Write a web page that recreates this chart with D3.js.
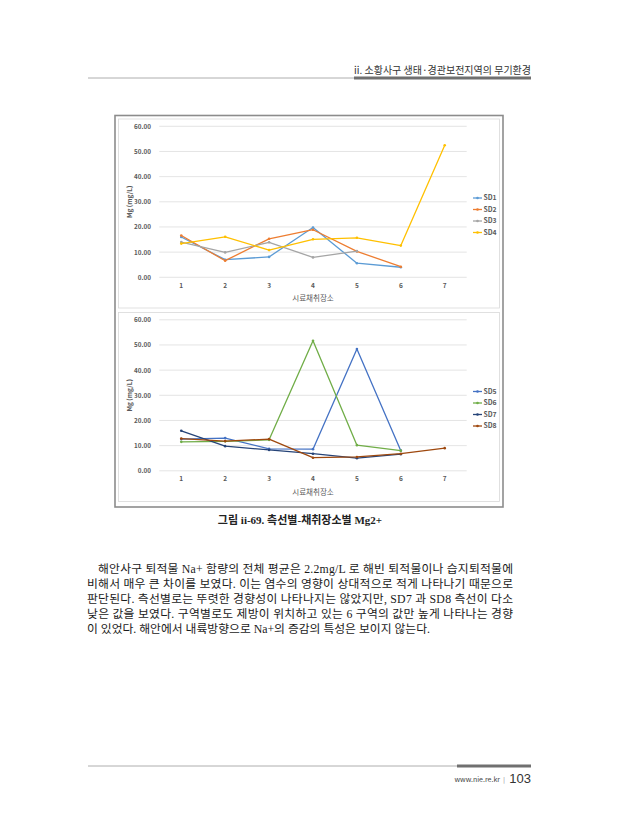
<!DOCTYPE html>
<html>
<head>
<meta charset="utf-8">
<script src="https://cdn.jsdelivr.net/npm/d3@7"></script>
<style>
  html, body { margin: 0; padding: 0; background: #fff; }
  svg { display: block; }
</style>
</head>
<body>
<svg id="page" width="619" height="840"></svg>
<script>
// chart values
const sites = [1, 2, 3, 4, 5, 6, 7];
const yTicks = [0, 10, 20, 30, 40, 50, 60];
const namesTop = ['SD1', 'SD2', 'SD3', 'SD4'];
const namesBottom = ['SD5', 'SD6', 'SD7', 'SD8'];
const sd1 = [16.0, 7.0, 8.1, 19.8, 5.6, 4.0, null];
const sd2 = [16.6, 6.6, 15.3, 18.9, 10.3, 4.2, null];
const sd3 = [14.0, 9.9, 13.9, 7.9, 10.4, null, null];
const sd4 = [13.4, 16.1, 10.8, 15.1, 15.7, 12.6, 52.5];
const sd5 = [12.6, 13.0, 8.7, 8.6, 48.4, 8.0, null];
const sd6 = [11.5, 11.7, 12.3, 51.7, 10.2, 8.0, null];
const sd7 = [15.9, 9.8, 8.3, 6.8, 5.0, 6.6, null];
const sd8 = [12.8, 11.8, 12.6, 5.2, 5.5, 6.8, 9.0];
const coloursTop = ['#5b9bd5', '#ed7d31', '#a5a5a5', '#ffc000'];
const coloursBottom = ['#4472c4', '#70ad47', '#264478', '#9e480e'];

const paragraph = [
    '해안사구 퇴적물 Na+ 함량의 전체 평균은 2.2mg/L 로 해빈 퇴적물이나 습지퇴적물에',
    '비해서 매우 큰 차이를 보였다. 이는 염수의 영향이 상대적으로 적게 나타나기 때문으로',
    '판단된다. 측선별로는 뚜렷한 경향성이 나타나지는 않았지만, SD7 과 SD8 측선이 다소',
    '낮은 값을 보였다. 구역별로도 제방이 위치하고 있는 6 구역의 값만 높게 나타나는 경향',
    '이 있었다. 해안에서 내륙방향으로 Na+의 증감의 특성은 보이지 않는다.'
];

const svg = d3.select('#page');
const sans = '"Noto Sans CJK KR", "Noto Sans", sans-serif';
const serif = '"Liberation Serif", "Noto Sans CJK KR", serif';

// page header
svg.append('line').attr('x1', 88).attr('x2', 355).attr('y1', 78).attr('y2', 78)
    .attr('stroke', '#9a9a9a').attr('stroke-width', 0.8);
svg.append('rect').attr('x', 354).attr('y', 76.5).attr('width', 177).attr('height', 3)
    .attr('fill', '#707070');
svg.append('text').attr('x', 531).attr('y', 74).attr('text-anchor', 'end')
    .attr('font-family', sans).attr('font-size', 10).attr('fill', '#333')
    .text('ii. 소황사구 생태·경관보전지역의 무기환경');

// page footer
svg.append('line').attr('x1', 88).attr('x2', 458).attr('y1', 766).attr('y2', 766)
    .attr('stroke', '#9a9a9a').attr('stroke-width', 0.8);
svg.append('rect').attr('x', 457).attr('y', 764.5).attr('width', 74).attr('height', 3)
    .attr('fill', '#707070');
svg.append('text').attr('x', 500).attr('y', 782).attr('text-anchor', 'end')
    .attr('font-family', sans).attr('font-size', 7).attr('fill', '#444')
    .text('www.nie.re.kr');
svg.append('text').attr('x', 504).attr('y', 782).attr('text-anchor', 'middle')
    .attr('font-family', sans).attr('font-size', 6).attr('fill', '#777').text('|');
svg.append('text').attr('x', 531).attr('y', 783).attr('text-anchor', 'end')
    .attr('font-family', '"Liberation Sans Narrow", "Liberation Sans", sans-serif')
    .attr('font-size', 13).attr('fill', '#333').text('103');

// figure frame
svg.append('rect').attr('x', 115).attr('y', 115.5).attr('width', 388).attr('height', 391.5)
    .attr('fill', '#fff').attr('stroke', '#8c8c8c').attr('stroke-width', 1.6);

function drawChart (top, names, seriesList, colours) {
    // panel
    svg.append('rect').attr('x', 118.5).attr('y', top).attr('width', 381).attr('height', 189)
        .attr('fill', '#fff').attr('stroke', '#d9d9d9').attr('stroke-width', 0.8);

    const x = d3.scaleBand().domain(sites).range([159.3, 466.7]);
    const y = d3.scaleLinear().domain([0, 60]).range([top + 158.3, top + 7.3]);
    const g = svg.append('g').attr('font-family', sans);

    // gridlines
    g.append('g').selectAll('line').data(yTicks).enter().append('line')
        .attr('x1', 159.3).attr('x2', 466.7)
        .attr('y1', d => y(d)).attr('y2', d => y(d))
        .attr('stroke', '#d9d9d9').attr('stroke-width', 0.7);

    // y axis labels
    const yAxis = g.append('g').attr('transform', 'translate(151,0)')
        .call(d3.axisLeft(y).tickValues(yTicks).tickFormat(d3.format('.2f')).tickSize(0).tickPadding(0));
    yAxis.select('.domain').remove();
    yAxis.selectAll('text').attr('font-size', 6.3).attr('font-weight', 'bold').attr('fill', '#595959')
        .attr('font-family', sans);

    // x axis labels
    const xAxis = g.append('g').attr('transform', `translate(0,${y(0)})`)
        .call(d3.axisBottom(x).tickSize(0).tickPadding(6));
    xAxis.select('.domain').remove();
    xAxis.selectAll('text').attr('font-size', 6.5).attr('font-weight', 'bold').attr('fill', '#595959')
        .attr('font-family', sans);

    // axis titles
    g.append('text').attr('transform', `translate(131.5,${(y(0) + y(60)) / 2}) rotate(-90)`)
        .attr('text-anchor', 'middle').attr('font-size', 6.5).attr('font-weight', 'bold')
        .attr('fill', '#595959').text('Mg (mg/L)');
    g.append('text').attr('x', 313).attr('y', y(0) + 24).attr('text-anchor', 'middle')
        .attr('font-size', 7.5).attr('fill', '#595959').text('시료채취장소');

    // series lines
    const line = d3.line()
        .defined(d => d.v !== null)
        .x(d => x(d.site) + x.bandwidth() / 2)
        .y(d => y(d.v));
    seriesList.forEach((vals, i) => {
        const pts = sites.map((s, j) => ({ site: s, v: vals[j] }));
        g.append('path').datum(pts).attr('d', line)
            .attr('fill', 'none').attr('stroke', colours[i]).attr('stroke-width', 1.3)
            .attr('stroke-linejoin', 'round');
        g.append('g').selectAll('circle').data(pts.filter(d => d.v !== null)).enter().append('circle')
            .attr('cx', d => x(d.site) + x.bandwidth() / 2).attr('cy', d => y(d.v))
            .attr('r', 1.3).attr('fill', colours[i]);
    });

    // legend
    const legend = g.append('g');
    names.forEach((name, i) => {
        const ly = top + 79 + i * 11.5;
        legend.append('line').attr('x1', 473).attr('x2', 482).attr('y1', ly).attr('y2', ly)
            .attr('stroke', colours[i]).attr('stroke-width', 1.3);
        legend.append('circle').attr('cx', 477.5).attr('cy', ly).attr('r', 1.3).attr('fill', colours[i]);
        legend.append('text').attr('x', 483.5).attr('y', ly + 2.4)
            .attr('font-size', 6.8).attr('font-weight', 'bold').attr('fill', '#595959').text(name);
    });
}

drawChart(119, namesTop, [sd1, sd2, sd3, sd4], coloursTop);
drawChart(312.5, namesBottom, [sd5, sd6, sd7, sd8], coloursBottom);

// caption
svg.append('text').attr('x', 300).attr('y', 524).attr('text-anchor', 'middle')
    .attr('font-family', serif).attr('font-size', 11).attr('font-weight', 'bold').attr('fill', '#222')
    .text('그림 ii-69. 측선별-채취장소별 Mg2+');

// body paragraph
const body = svg.append('g').attr('font-family', serif).attr('font-size', 11.8).attr('fill', '#1a1a1a');
paragraph.forEach((txt, i) => {
    const x0 = i === 0 ? 98 : 87;
    const t = body.append('text').attr('x', x0).attr('y', 573 + i * 15).text(txt);
    if (i < paragraph.length - 1) {
        t.attr('textLength', 513 - x0).attr('lengthAdjust', 'spacing');
    }
});
</script>
</body>
</html>
